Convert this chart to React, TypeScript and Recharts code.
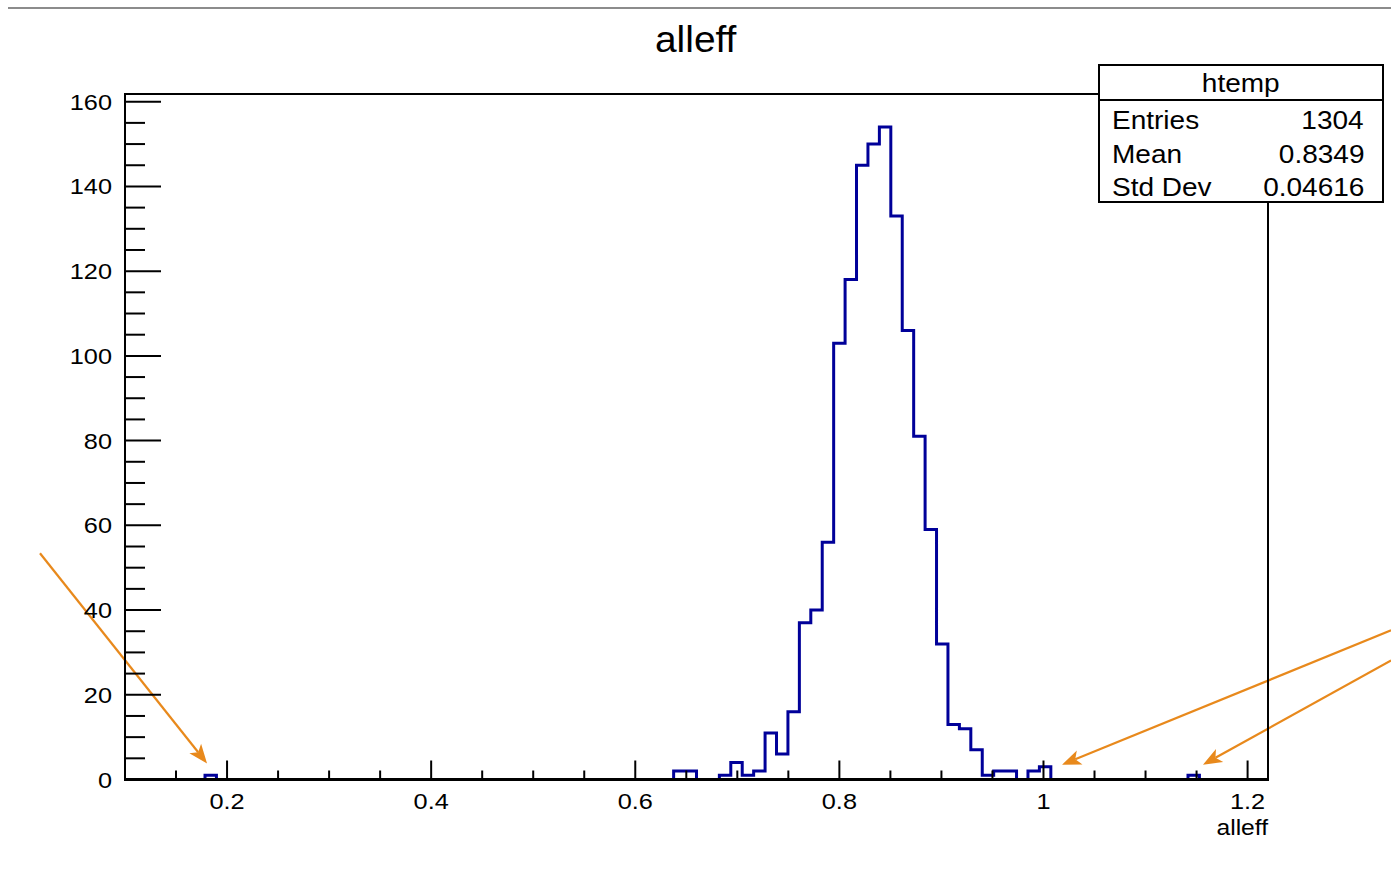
import { ComposedChart, Line, XAxis, YAxis, ReferenceLine } from 'recharts';

// histogram definition (ROOT htemp, 100 bins)
const LOW = 0.1;
const HIGH = 1.22;
const NBINS = 100;
const YMAX = 161.7;

// non-empty bins: bin index -> entries
const BIN_INDEX = [7, 48, 49, 52, 53, 54, 55, 56, 57, 58, 59, 60, 61, 62, 63, 64, 65, 66, 67, 68, 69, 70, 71, 72, 73, 74, 75, 76, 77, 79, 80, 93];
const BIN_COUNT = [1, 2, 2, 1, 4, 1, 2, 11, 6, 16, 37, 40, 56, 103, 118, 145, 150, 154, 133, 106, 81, 59, 32, 13, 12, 7, 1, 2, 2, 2, 3, 1];

const Y_TICKS = [0, 5, 10, 15, 20, 25, 30, 35, 40, 45, 50, 55, 60, 65, 70, 75, 80, 85, 90, 95, 100, 105, 110, 115, 120, 125, 130, 135, 140, 145, 150, 155, 160];
const X_TICKS = [0.15, 0.2, 0.25, 0.3, 0.35, 0.4, 0.45, 0.5, 0.55, 0.6, 0.65, 0.7, 0.75, 0.8, 0.85, 0.9, 0.95, 1, 1.05, 1.1, 1.15, 1.2];

const STATS = [
  { label: 'Entries', value: '1304' },
  { label: 'Mean', value: '0.8349' },
  { label: 'Std Dev', value: '0.04616' },
];

// orange annotation arrows, [start, tip] in data units
const ARROWS = [
  [{ x: 0.0167, y: 53.4 }, { x: 0.1804, y: 3.8 }],
  [{ x: 1.3406, y: 35.2 }, { x: 1.0182, y: 3.5 }],
  [{ x: 1.3406, y: 28.1 }, { x: 1.1563, y: 3.5 }],
];

const FONT = '"Liberation Sans", Arial, Helvetica, sans-serif';
const ORANGE = '#e8891c';
const HIST = '#000099';

const counts = new Map(BIN_INDEX.map((b, i) => [b, BIN_COUNT[i]]));
const data = [];
for (let i = 0; i <= NBINS; i++) {
  data.push({ x: LOW + (i * (HIGH - LOW)) / NBINS, n: i < NBINS ? counts.get(i) ?? 0 : 0 });
}

const isMajor = (v: number, step: number) => Math.abs(v / step - Math.round(v / step)) < 1e-6;

function YTick({ x, y, payload }: any) {
  const v = payload.value;
  const major = isMajor(v, 20);
  return (
    <g>
      <line x1={x} x2={x + (major ? 36 : 20)} y1={y} y2={y} stroke="#000" strokeWidth={2} />
      {major && (
        <text transform={`translate(${x - 13},${y + 8}) scale(1.15,1)`} textAnchor="end"
          fontFamily={FONT} fontSize={22} fill="#000">{v}</text>
      )}
    </g>
  );
}

function XTick({ x, y, payload }: any) {
  const v = payload.value;
  const major = isMajor(v, 0.2);
  return (
    <g>
      <line x1={x} x2={x} y1={y} y2={y - (major ? 19 : 9)} stroke="#000" strokeWidth={2} />
      {major && (
        <text transform={`translate(${x},${y + 29}) scale(1.15,1)`} textAnchor="middle"
          fontFamily={FONT} fontSize={22} fill="#000">{Number(v.toFixed(2)).toString()}</text>
      )}
    </g>
  );
}

function Arrow(props: any) {
  const x1 = props.x1 ?? props.points?.[0]?.x;
  const y1 = props.y1 ?? props.points?.[0]?.y;
  const x2 = props.x2 ?? props.points?.[1]?.x;
  const y2 = props.y2 ?? props.points?.[1]?.y;
  if (x1 == null) return null;
  const a = Math.atan2(y2 - y1, x2 - x1);
  const L = 19, W = 7.5;
  const bx = x2 - L * Math.cos(a), by = y2 - L * Math.sin(a);
  const mx = x2 - L * 0.75 * Math.cos(a), my = y2 - L * 0.75 * Math.sin(a);
  const px = -Math.sin(a) * W, py = Math.cos(a) * W;
  return (
    <g>
      <line x1={x1} y1={y1} x2={mx} y2={my} stroke={ORANGE} strokeWidth={2.2} />
      <polygon points={`${x2},${y2} ${bx + px},${by + py} ${mx},${my} ${bx - px},${by - py}`} fill={ORANGE} />
    </g>
  );
}

export default function App() {
  return (
    <div style={{ position: 'absolute', left: 0, top: 0, width: 1391, height: 869, background: '#fff', fontFamily: FONT }}>
      <div style={{ position: 'absolute', left: 8, top: 7, width: 1383, height: 2, background: '#8c8c8c' }} />
      <div style={{ position: 'absolute', left: 0, width: 1391, top: 18, textAlign: 'center', fontSize: 36, lineHeight: '44px' }}>
        <span style={{ display: 'inline-block', transform: 'scaleX(1.08)' }}>alleff</span>
      </div>

      <ComposedChart width={1391} height={869} data={data} margin={{ top: 94.5, right: 123, bottom: 0, left: 0 }}>
        <XAxis dataKey="x" type="number" domain={[LOW, HIGH]} ticks={X_TICKS} interval={0}
          tick={<XTick />} tickSize={0} tickMargin={0} tickLine={false} axisLine={false} height={89.5} allowDataOverflow />
        <YAxis type="number" domain={[0, YMAX]} ticks={Y_TICKS} interval={0}
          tick={<YTick />} tickSize={0} tickMargin={0} tickLine={false} axisLine={false} width={125} allowDataOverflow />
        <Line dataKey="n" type="stepAfter" stroke={HIST} strokeWidth={3} dot={false} activeDot={false}
          isAnimationActive={false} strokeLinejoin="miter" strokeLinecap="square" />
        {ARROWS.map((seg, i) => (
          <ReferenceLine key={i} segment={seg} ifOverflow="visible" shape={<Arrow />} />
        ))}
      </ComposedChart>

      {/* frame drawn over the histogram, like ROOT redraws its axes */}
      <div style={{
        position: 'absolute', left: 124, top: 93, width: 1145, height: 688, boxSizing: 'border-box',
        borderTop: '2px solid #000', borderLeft: '2px solid #000', borderRight: '2px solid #000', borderBottom: '3px solid #000',
        pointerEvents: 'none',
      }} />

      <div style={{ position: 'absolute', left: 1212, top: 815, width: 56, textAlign: 'right', fontSize: 22, lineHeight: '26px' }}>
        <span style={{ display: 'inline-block', transform: 'scaleX(1.12)', transformOrigin: 'right center' }}>alleff</span>
      </div>

      <div style={{ position: 'absolute', left: 1098, top: 64, width: 282, height: 135, border: '2px solid #000', background: '#fff' }}>
        <div style={{ height: 33, borderBottom: '2px solid #000', textAlign: 'center', fontSize: 25, lineHeight: '34px' }}>
          <span style={{ display: 'inline-block', transform: 'scaleX(1.12)' }}>htemp</span>
        </div>
        {STATS.map((s, i) => (
          <div key={s.label} style={{ position: 'relative', height: 33, fontSize: 25, lineHeight: '33px', top: i === 0 ? 3 : 3 + i * 0.5 }}>
            <span style={{ position: 'absolute', left: 12, display: 'inline-block', transform: 'scaleX(1.12)', transformOrigin: 'left center' }}>{s.label}</span>
            <span style={{ position: 'absolute', right: 18, display: 'inline-block', transform: 'scaleX(1.12)', transformOrigin: 'right center' }}>{s.value}</span>
          </div>
        ))}
      </div>
    </div>
  );
}
